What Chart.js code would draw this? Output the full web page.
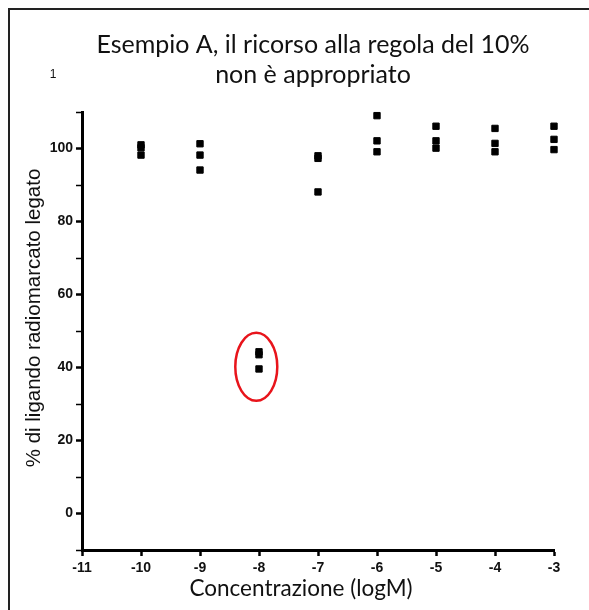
<!DOCTYPE html>
<html>
<head>
<meta charset="utf-8">
<script src="https://cdn.jsdelivr.net/npm/chart.js@4/dist/chart.umd.min.js"></script>
<style>
  html, body { margin: 0; padding: 0; background: #fff; }
  #wrap { width: 589px; height: 610px; position: relative; }
</style>
</head>
<body>
<div id="wrap"><canvas id="myChart"></canvas></div>
<script>
// Dati
const concentrazioni = [-10, -9, -8, -7, -6, -5, -4, -3];
const replica1 = [101.0, 101.3, 44.3, 98.0, 109.0, 106.1, 105.5, 106.1];
const replica2 = [100.2, 98.2, 43.5, 97.3, 102.1, 102.1, 101.4, 102.5];
const replica3 = [98.2, 94.1, 39.6, 88.1, 99.1, 100.1, 99.1, 99.7];
const titolo = ['Esempio A, il ricorso alla regola del 10%', 'non è appropriato'];
const titoloX = 'Concentrazione (logM)';
const titoloY = '% di ligando radiomarcato legato';
const yLabels = [0, 20, 40, 60, 80, 100];
const evidenziato = [-8.046, 40.2]; // centro dell'ellisse rossa

const punti = [];
concentrazioni.forEach(function (c, i) {
    punti.push({ x: c, y: replica1[i] });
    punti.push({ x: c, y: replica2[i] });
    punti.push({ x: c, y: replica3[i] });
});

// Testi, bordo e ellisse disegnati sopra il grafico
const decorazioni = {
    id: 'decorazioni',
    afterDraw: function (chart) {
        const ctx = chart.ctx;
        const xs = chart.scales.x, ys = chart.scales.y;
        ctx.save();

        // bordo sinistro e superiore
        ctx.strokeStyle = '#222';
        ctx.lineWidth = 2;
        ctx.beginPath();
        ctx.moveTo(9, 610);
        ctx.lineTo(9, 9);
        ctx.lineTo(589, 9);
        ctx.stroke();

        // titolo
        ctx.fillStyle = '#111';
        ctx.textAlign = 'center';
        ctx.textBaseline = 'middle';
        ctx.font = '25px Lato';
        ctx.fillText(titolo[0], 313, 45);
        ctx.fillText(titolo[1], 313, 75);

        // piccolo "1"
        ctx.font = '12px "Liberation Sans"';
        ctx.fillText('1', 53, 75);

        // titolo asse x
        ctx.font = '22.5px Lato';
        ctx.fillText(titoloX, 301, 589);

        // titolo asse y
        ctx.save();
        ctx.translate(34, 318);
        ctx.rotate(-Math.PI / 2);
        ctx.font = '20.5px "Liberation Sans"';
        ctx.fillText(titoloY, 0, 0);
        ctx.restore();

        // ellisse rossa
        ctx.strokeStyle = '#e8141b';
        ctx.lineWidth = 2.5;
        ctx.beginPath();
        ctx.ellipse(xs.getPixelForValue(evidenziato[0]), ys.getPixelForValue(evidenziato[1]), 21, 34, 0, 0, Math.PI * 2);
        ctx.stroke();

        ctx.restore();
    }
};

const ctx = document.getElementById('myChart').getContext('2d');
new Chart(ctx, {
    type: 'scatter',
    data: {
        datasets: [{
            data: punti,
            clip: false,
            pointStyle: 'rect',
            pointRadius: 4.5,
            pointHoverRadius: 4.5,
            backgroundColor: '#000',
            borderColor: '#000',
            borderWidth: 1
        }]
    },
    options: {
        responsive: true,
        maintainAspectRatio: false,
        animation: false,
        events: [],
        layout: { padding: { top: 112, right: 35, bottom: 0, left: 0 } },
        plugins: { legend: { display: false }, tooltip: { enabled: false } },
        scales: {
            x: {
                type: 'linear',
                min: -11,
                max: -3,
                afterFit: function (s) { s.height = 60; },
                ticks: {
                    stepSize: 1,
                    color: '#111',
                    padding: 4,
                    font: { family: '"Liberation Sans"', size: 14, weight: 'bold' }
                },
                grid: { drawOnChartArea: false, tickLength: 6, tickWidth: 2.5, tickColor: '#000' },
                border: { color: '#000', width: 3 }
            },
            y: {
                min: -10,
                max: 110,
                afterFit: function (s) { s.width = 82; },
                ticks: {
                    stepSize: 10,
                    color: '#111',
                    padding: 3,
                    font: { family: '"Liberation Sans"', size: 14, weight: 'bold' },
                    callback: function (v) { return yLabels.includes(v) ? String(v) : ''; }
                },
                grid: {
                    drawOnChartArea: false,
                    tickLength: 6,
                    tickColor: '#000',
                    tickWidth: function (c) { return c.tick && yLabels.includes(c.tick.value) ? 2.5 : 1.5; }
                },
                border: { color: '#000', width: 3 }
            }
        }
    },
    plugins: [decorazioni]
});
</script>
</body>
</html>
